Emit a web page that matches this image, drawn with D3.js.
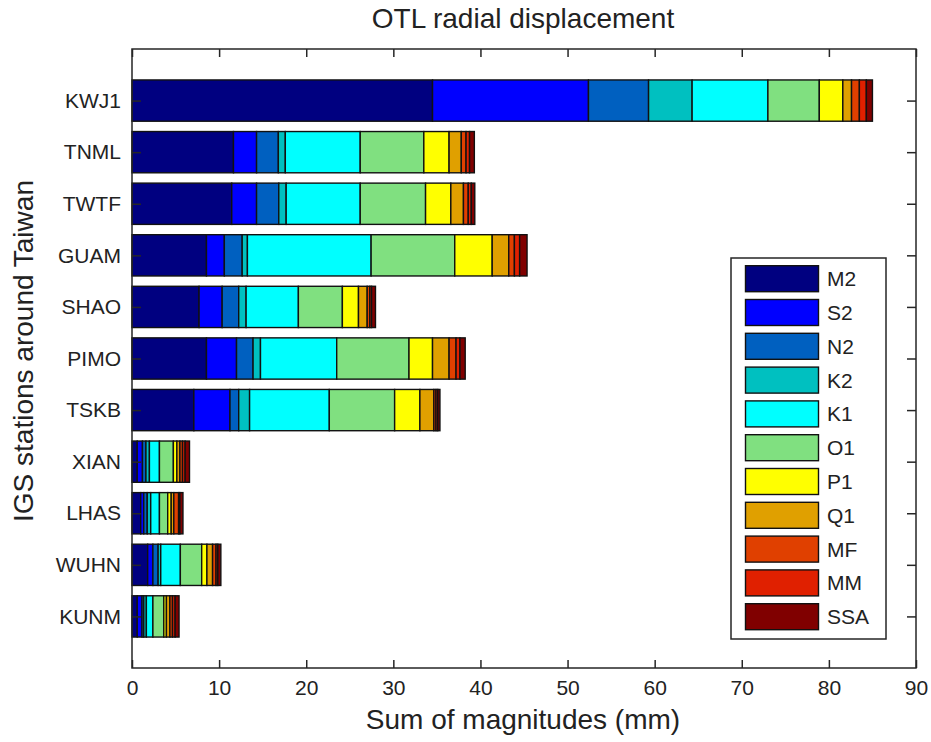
<!DOCTYPE html>
<html><head><meta charset="utf-8">
<script src="https://cdn.jsdelivr.net/npm/d3@7"></script>
<style>
body{margin:0;background:#fff;}
svg{display:block;font-family:"Liberation Sans",Arial,sans-serif;}
</style>
</head><body>
<svg id="c" width="931" height="742"></svg>
<script>
// ---- data (mm) ----
const stations = ["KWJ1","TNML","TWTF","GUAM","SHAO","PIMO","TSKB","XIAN","LHAS","WUHN","KUNM"];
const constituents = ["M2","S2","N2","K2","K1","O1","P1","Q1","MF","MM","SSA"];
const colors = ["#000080","#0000ff","#0060c0","#00c0c0","#00ffff","#80e080","#ffff00","#e0a000","#e04000","#e02000","#800000"];
const M2  = [34.5,11.65,11.45,8.55,7.7,8.55,7.1,0.6,1.0,1.8,0.6];
const S2  = [17.9,2.65,2.85,2.05,2.65,3.45,4.15,0.6,0.35,0.6,0.55];
const N2  = [6.9,2.5,2.55,2.05,1.9,1.9,1.0,0.4,0.4,0.6,0.2];
const K2  = [5.0,0.8,0.85,0.6,0.85,0.85,1.25,0.4,0.4,0.3,0.3];
const K1  = [8.7,8.6,8.5,14.2,6.0,8.75,9.15,1.15,1.0,2.25,0.75];
const O1  = [5.9,7.3,7.5,9.6,5.05,8.3,7.5,1.6,0.95,2.45,1.25];
const P1  = [2.7,2.9,2.9,4.3,1.85,2.7,2.9,0.4,0.4,0.6,0.3];
const Q1  = [1.0,1.4,1.45,1.9,1.0,1.9,1.6,0.35,0.3,0.65,0.4];
const MF  = [0.9,0.55,0.55,0.65,0.3,0.8,0.25,0.3,0.55,0.4,0.3];
const MM  = [0.8,0.4,0.35,0.6,0.2,0.45,0.2,0.3,0.15,0.2,0.3];
const SSA = [0.7,0.55,0.4,0.85,0.45,0.6,0.25,0.5,0.35,0.35,0.45];
const xTicks = [0,10,20,30,40,50,60,70,80,90];
const titleText = "OTL radial displacement";
const xLabel = "Sum of magnitudes (mm)";
const yLabel = "IGS stations around Taiwan";

const seriesArrays = [M2,S2,N2,K2,K1,O1,P1,Q1,MF,MM,SSA];
const table = stations.map((s,i)=>{
  const row = {station:s};
  constituents.forEach((c,j)=> row[c] = seriesArrays[j][i]);
  return row;
});

// ---- layout ----
const L=132, R=916, T=49, B=668;
const svg = d3.select("#c");
const x = d3.scaleLinear().domain([0,90]).range([L,R]);
const y = d3.scaleBand().domain(stations).range([T,B]).paddingInner(0.2).paddingOuter(0.6);
const color = d3.scaleOrdinal().domain(constituents).range(colors);
const stack = d3.stack().keys(constituents)(table);

svg.append("rect").attr("x",0).attr("y",0).attr("width",931).attr("height",742).attr("fill","#fff");

// bars
const g = svg.append("g");
stack.forEach(layer=>{
  g.selectAll(null).data(layer).join("rect")
    .attr("x",d=>x(d[0]))
    .attr("y",d=>y(d.data.station))
    .attr("width",d=>x(d[1])-x(d[0]))
    .attr("height",y.bandwidth())
    .attr("fill",color(layer.key))
    .attr("stroke","#111").attr("stroke-width",1.4);
});

// axes box
const ink="#262626";
svg.append("rect").attr("x",L).attr("y",T).attr("width",R-L).attr("height",B-T)
  .attr("fill","none").attr("stroke",ink).attr("stroke-width",1.5);

// x ticks bottom & top (inward)
svg.append("g").attr("transform",`translate(0,${B})`)
  .call(d3.axisBottom(x).tickValues(xTicks).tickSizeInner(-8).tickSizeOuter(0).tickPadding(12).tickFormat(d3.format("d")))
  .call(a=>{a.select(".domain").remove();a.selectAll("line").attr("stroke",ink).attr("stroke-width",1.5);
    a.selectAll("text").attr("font-size",21).attr("fill","#222").attr("font-family","Liberation Sans, Arial, sans-serif");});
svg.append("g").attr("transform",`translate(0,${T})`)
  .call(d3.axisTop(x).tickValues(xTicks).tickSizeInner(-8).tickSizeOuter(0).tickFormat(""))
  .call(a=>{a.select(".domain").remove();a.selectAll("line").attr("stroke",ink).attr("stroke-width",1.5);});

// y ticks left & right (inward)
const yc = d => y(d)+y.bandwidth()/2;
const yAxisScale = d3.scalePoint().domain(stations).range([yc(stations[0]), yc(stations[stations.length-1])]);
svg.append("g").attr("transform",`translate(${L},0)`)
  .call(d3.axisLeft(yAxisScale).tickSizeInner(-9).tickSizeOuter(0).tickPadding(11))
  .call(a=>{a.select(".domain").remove();a.selectAll("line").attr("stroke",ink).attr("stroke-width",1.5);
    a.selectAll("text").attr("font-size",21).attr("fill","#222").attr("font-family","Liberation Sans, Arial, sans-serif");});
svg.append("g").attr("transform",`translate(${R},0)`)
  .call(d3.axisRight(yAxisScale).tickSizeInner(-9).tickSizeOuter(0).tickFormat(""))
  .call(a=>{a.select(".domain").remove();a.selectAll("line").attr("stroke",ink).attr("stroke-width",1.5);});

// titles
svg.append("text").attr("x",523).attr("y",28).attr("text-anchor","middle")
  .attr("font-size",28).attr("fill","#222").text(titleText);
svg.append("text").attr("x",523).attr("y",729).attr("text-anchor","middle")
  .attr("font-size",28).attr("fill","#222").text(xLabel);
svg.append("text").attr("transform",`translate(33,351) rotate(-90)`).attr("text-anchor","middle")
  .attr("font-size",28).attr("fill","#222").text(yLabel);

// legend
const lg = svg.append("g");
lg.append("rect").attr("x",731).attr("y",258).attr("width",155).attr("height",381)
  .attr("fill","#fff").attr("stroke",ink).attr("stroke-width",1.5);
const ly = d3.scalePoint().domain(constituents).range([265.7,603.7]);
const items = lg.selectAll("g.it").data(constituents).join("g").attr("class","it")
  .attr("transform",d=>`translate(0,${ly(d)})`);
items.append("rect").attr("x",745.5).attr("y",0).attr("width",73).attr("height",26)
  .attr("fill",d=>color(d)).attr("stroke","#111").attr("stroke-width",1.4);
items.append("text").attr("x",827).attr("y",20.5).attr("font-size",21).attr("fill","#222").text(d=>d);
</script>
</body></html>
